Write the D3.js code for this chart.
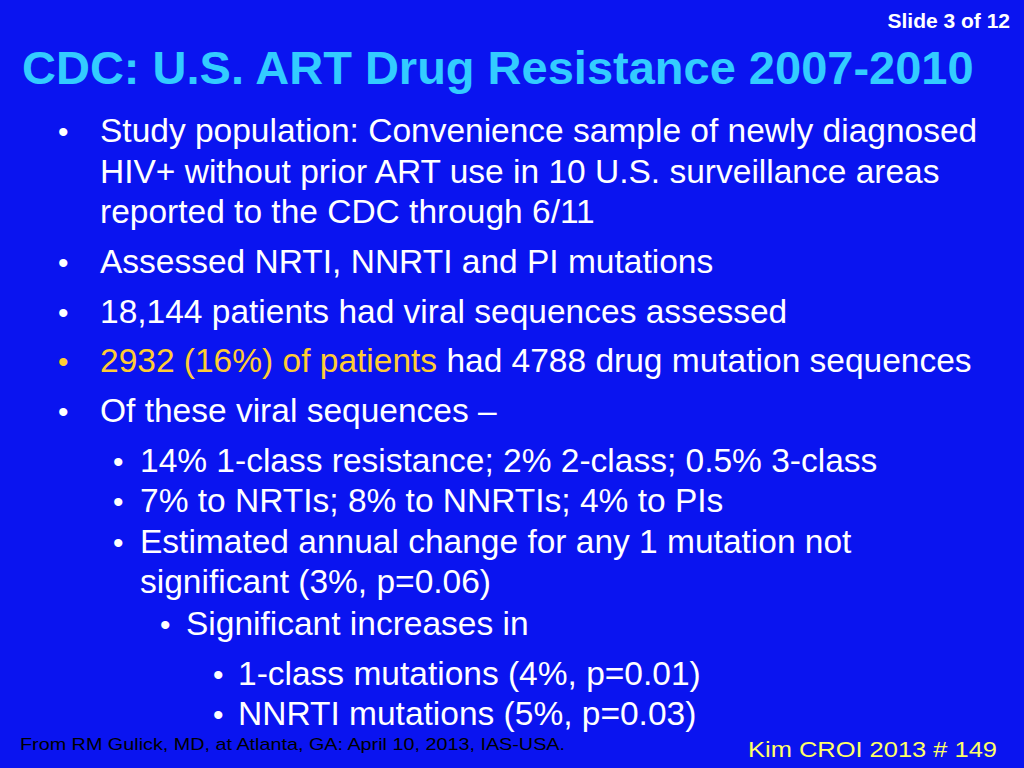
<!DOCTYPE html>
<html><head><meta charset="utf-8">
<script src="https://cdn.jsdelivr.net/npm/d3@7"></script>
<style>body{margin:0;background:#0a14f0;overflow:hidden}svg{display:block}</style>
</head><body>
<script>
// slide content
var slideLabel = "Slide 3 of 12";
var title = "CDC: U.S. ART Drug Resistance 2007-2010";
// [level, text, highlight-prefix]
var bullets = [
  [0, "Study population: Convenience sample of newly diagnosed", ""],
  [-1, "HIV+ without prior ART use in 10 U.S. surveillance areas", ""],
  [-1, "reported to the CDC through 6/11", ""],
  [0, "Assessed NRTI, NNRTI and PI mutations", ""],
  [0, "18,144 patients had viral sequences assessed", ""],
  [0, " had 4788 drug mutation sequences", "2932 (16%) of patients"],
  [0, "Of these viral sequences \u2013", ""],
  [1, "14% 1-class resistance; 2% 2-class; 0.5% 3-class", ""],
  [1, "7% to NRTIs; 8% to NNRTIs; 4% to PIs", ""],
  [1, "Estimated annual change for any 1 mutation not", ""],
  [-2, "significant (3%, p=0.06)", ""],
  [2, "Significant increases in", ""],
  [3, "1-class mutations (4%, p=0.01)", ""],
  [3, "NNRTI mutations (5%, p=0.03)", ""]
];
var baselines = [142, 183, 223, 273, 323, 372, 422, 472, 512, 553, 593, 635, 685, 725];
var footLeft = "From RM Gulick, MD, at Atlanta, GA: April 10, 2013, IAS-USA.";
var footRight = "Kim CROI 2013 # 149";

var W = 1024, H = 768;
var svg = d3.select("body").append("svg").attr("width", W).attr("height", H)
  .style("font-family", "'Liberation Sans', Arial, sans-serif");
svg.append("rect").attr("width", W).attr("height", H).attr("fill", "#0a14f0");

svg.append("text").attr("x", 1010).attr("y", 28).attr("text-anchor", "end")
  .attr("font-size", 21).attr("font-weight", "bold").attr("fill", "#fff").text(slideLabel);
svg.append("text").attr("x", 22).attr("y", 84).attr("font-size", 47).attr("font-weight", "bold")
  .attr("fill", "#33ccff").text(title);

// x positions per level: [bullet x, text x]
var levelX = {"0": [58, 100], "-1": [null, 100], "1": [113, 140], "-2": [null, 140], "2": [160, 186], "3": [213, 238]};

var rows = svg.selectAll("g.row").data(bullets).enter().append("g").attr("class", "row");
rows.each(function(d, i) {
  var g = d3.select(this), y = baselines[i], lx = levelX[String(d[0])];
  var col = d[2] ? "#ffcc33" : "#fff";
  if (lx[0] != null)
    g.append("text").attr("x", lx[0]).attr("y", y).attr("font-size", 30).attr("fill", col).text("\u2022");
  var t = g.append("text").attr("x", lx[1]).attr("y", y).attr("font-size", 33.5).attr("fill", "#fff");
  if (d[2]) t.append("tspan").attr("fill", "#ffcc33").text(d[2]);
  t.append("tspan").text(d[1]);
});

svg.append("text").attr("x", 20).attr("y", 750).attr("font-size", 17).attr("fill", "#000")
  .attr("textLength", 545).attr("lengthAdjust", "spacingAndGlyphs").text(footLeft);
svg.append("text").attr("x", 997).attr("y", 757).attr("text-anchor", "end").attr("font-size", 22)
  .attr("fill", "#ffff66").attr("textLength", 249).attr("lengthAdjust", "spacingAndGlyphs").text(footRight);
</script>
</body></html>
